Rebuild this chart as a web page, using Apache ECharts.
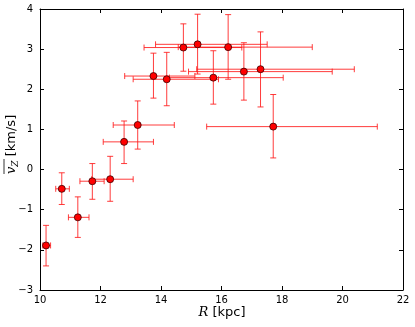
<!DOCTYPE html>
<html>
<head>
<meta charset="UTF-8" />
<title>vZ vs R</title>
<script type="text/javascript" src="https://cdnjs.cloudflare.com/ajax/libs/echarts/6.0.0/echarts.min.js"></script>
</head>
<body style="margin:0">
<div id="main" style="width: 415px;height: 327px;"></div>
<script>
// R [kpc] of each bin and mean vertical velocity
var rVals  = [10.20, 10.72, 11.25, 11.73, 12.32, 12.78, 13.23, 13.75, 14.19, 14.74, 15.21, 15.73, 16.22, 16.74, 17.29, 17.71];
var vVals  = [-1.89, -0.48, -1.19, -0.29, -0.24, 0.69, 1.11, 2.33, 2.25, 3.04, 3.12, 2.29, 3.05, 2.44, 2.50, 1.07];
// error bar ends (x: asymmetric)
var rLow   = [10.09, 10.52, 10.94, 11.32, 11.71, 12.09, 12.42, 12.80, 13.08, 13.44, 13.82, 14.28, 14.57, 14.91, 15.18, 15.51];
var rHigh  = [10.35, 10.97, 11.62, 12.12, 13.08, 13.75, 14.44, 15.12, 15.90, 16.67, 17.51, 18.04, 19.00, 19.66, 20.39, 21.15];
var vLow   = [-2.40, -0.87, -1.69, -0.74, -0.79, 0.15, 0.51, 1.78, 1.59, 2.45, 2.38, 1.63, 2.25, 1.73, 1.56, 0.29];
var vHigh  = [-1.39, -0.08, -0.68, 0.15, 0.33, 1.21, 1.71, 2.90, 2.92, 3.63, 3.87, 2.96, 3.86, 3.16, 3.43, 1.87];

var errData = [];
var ptData = [];
for (var i = 0; i < rVals.length; i++) {
    errData.push([rVals[i], vVals[i], rLow[i], rHigh[i], vLow[i], vHigh[i]]);
    ptData.push([rVals[i], vVals[i]]);
}

function minus(v) { return String(v).replace('-', '\u2212'); }

var mychart = echarts.init(document.getElementById('main'));

var tickFont = { color: '#000', fontFamily: 'DejaVu Sans', fontSize: 10 };
var axLine = { onZero: false, lineStyle: { color: '#000', width: 1 } };
var axTick = { inside: true, length: 4, lineStyle: { color: '#000' } };

var option = {
    animation: false,
    backgroundColor: '#fff',
    grid: { left: 40, right: 12, top: 9, bottom: 37 },
    xAxis: [{
        type: 'value', min: 10, max: 22, interval: 2,
        axisLine: axLine, axisTick: axTick,
        axisLabel: Object.assign({ margin: 5, formatter: minus }, tickFont),
        splitLine: { show: false }
    }, {
        type: 'value', min: 10, max: 22, interval: 2, position: 'top',
        axisLine: axLine, axisTick: axTick,
        axisLabel: { show: false },
        splitLine: { show: false }
    }],
    yAxis: [{
        type: 'value', min: -3, max: 4, interval: 1,
        axisLine: axLine, axisTick: axTick,
        axisLabel: Object.assign({ margin: 7, formatter: minus }, tickFont),
        splitLine: { show: false }
    }, {
        type: 'value', min: -3, max: 4, interval: 1, position: 'right',
        axisLine: axLine, axisTick: axTick,
        axisLabel: { show: false },
        splitLine: { show: false }
    }],
    graphic: [{
        type: 'text', x: 222, y: 313,
        style: {
            text: '{r|R} [kpc]',
            fill: '#000', font: '13px DejaVu Sans',
            align: 'center', verticalAlign: 'middle',
            rich: { r: { fontFamily: 'DejaVu Serif', fontStyle: 'italic', fontSize: 13 } }
        }
    }, {
        type: 'group', x: 12, y: 174, rotation: Math.PI / 2,
        children: [{
            type: 'text', x: 0, y: 0,
            style: {
                text: '{v|v}{z|Z} [km/s]',
                fill: '#000', font: '13px DejaVu Sans',
                verticalAlign: 'middle', align: 'left',
                rich: {
                    v: { fontFamily: 'DejaVu Serif', fontStyle: 'italic', fontSize: 13 },
                    z: { fontFamily: 'DejaVu Serif', fontStyle: 'italic', fontSize: 9, padding: [7, 0, 0, 0] }
                }
            }
        }, {
            type: 'line', shape: { x1: 0, y1: -8, x2: 15, y2: -8 },
            style: { stroke: '#000', lineWidth: 0.8 }
        }]
    }],
    series: [{
        type: 'custom',
        data: errData,
        z: 2,
        renderItem: function (params, api) {
            var x = api.value(0), y = api.value(1);
            var pL = api.coord([api.value(2), y]);
            var pR = api.coord([api.value(3), y]);
            var pB = api.coord([x, api.value(4)]);
            var pT = api.coord([x, api.value(5)]);
            var c = 3;
            var st = { stroke: '#ff1a1a', lineWidth: 1, opacity: 0.85 };
            return {
                type: 'group',
                children: [
                    { type: 'line', shape: { x1: pL[0], y1: pL[1], x2: pR[0], y2: pR[1] }, style: st },
                    { type: 'line', shape: { x1: pL[0], y1: pL[1] - c, x2: pL[0], y2: pL[1] + c }, style: st },
                    { type: 'line', shape: { x1: pR[0], y1: pR[1] - c, x2: pR[0], y2: pR[1] + c }, style: st },
                    { type: 'line', shape: { x1: pB[0], y1: pB[1], x2: pT[0], y2: pT[1] }, style: st },
                    { type: 'line', shape: { x1: pB[0] - c, y1: pB[1], x2: pB[0] + c, y2: pB[1] }, style: st },
                    { type: 'line', shape: { x1: pT[0] - c, y1: pT[1], x2: pT[0] + c, y2: pT[1] }, style: st }
                ]
            };
        }
    }, {
        type: 'scatter',
        data: ptData,
        z: 3,
        symbol: 'circle',
        symbolSize: 7,
        itemStyle: { color: '#ff0000', borderColor: '#3a0000', borderWidth: 0.8, opacity: 1 }
    }]
};

mychart.setOption(option);
</script>
</body>
</html>
